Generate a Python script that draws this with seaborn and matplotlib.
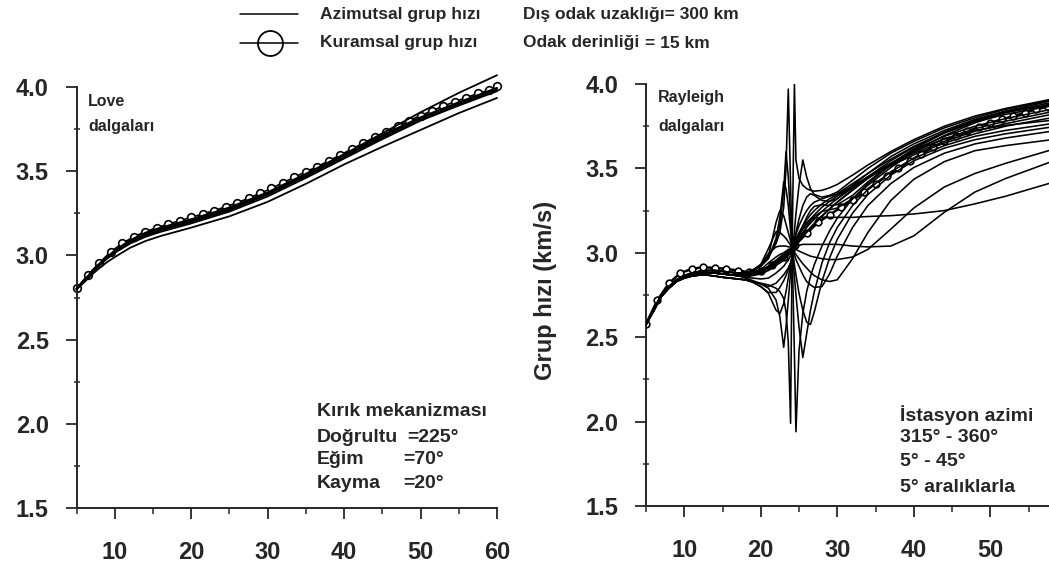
import numpy as np
import pandas as pd
import matplotlib
matplotlib.use("Agg")
import matplotlib.pyplot as plt
from matplotlib.lines import Line2D
from matplotlib.ticker import MultipleLocator, FixedLocator
import seaborn as sns

# -----------------------------
# Love waves (left panel)
# -----------------------------
love_theory_T = [5, 6.5, 8, 9.5, 11, 12.5, 14, 15.5, 17, 18.5, 20, 21.5, 23, 24.5,
                 26, 27.5, 29, 30.5, 32, 33.5, 35, 36.5, 38, 39.5, 41, 42.5, 44,
                 45.5, 47, 48.5, 50, 51.5, 53, 54.5, 56, 57.5, 59, 60]
love_theory_v = [2.805, 2.884, 2.957, 3.022, 3.072, 3.111, 3.141, 3.165, 3.186, 3.206,
                 3.226, 3.246, 3.266, 3.289, 3.313, 3.339, 3.369, 3.398, 3.432, 3.464,
                 3.497, 3.527, 3.562, 3.596, 3.632, 3.666, 3.701, 3.735, 3.768, 3.800,
                 3.830, 3.859, 3.887, 3.913, 3.937, 3.962, 3.982, 4.003]

love_T = [5, 6, 7, 8, 9, 10, 12, 14, 16, 18, 20, 25, 30, 35, 40, 45, 50, 55, 60]
love_az = {
    "L1": [2.80, 2.85, 2.905, 2.95, 2.99, 3.025, 3.08, 3.12, 3.15, 3.175, 3.20, 3.27, 3.365, 3.48, 3.60, 3.725, 3.85, 3.965, 4.07],
    "L2": [2.80, 2.85, 2.905, 2.95, 2.99, 3.025, 3.085, 3.13, 3.16, 3.185, 3.21, 3.28, 3.37, 3.48, 3.595, 3.71, 3.815, 3.905, 3.99],
    "L3": [2.80, 2.848, 2.90, 2.945, 2.985, 3.02, 3.075, 3.12, 3.15, 3.175, 3.20, 3.27, 3.36, 3.47, 3.585, 3.70, 3.805, 3.895, 3.98],
    "L4": [2.80, 2.845, 2.895, 2.94, 2.98, 3.015, 3.07, 3.11, 3.14, 3.165, 3.19, 3.26, 3.35, 3.46, 3.575, 3.69, 3.80, 3.89, 3.975],
    "L5": [2.80, 2.84, 2.885, 2.925, 2.96, 2.99, 3.045, 3.085, 3.115, 3.14, 3.165, 3.232, 3.318, 3.425, 3.54, 3.645, 3.745, 3.845, 3.935],
    "L6": [2.80, 2.85, 2.90, 2.948, 2.99, 3.03, 3.09, 3.135, 3.165, 3.19, 3.215, 3.285, 3.375, 3.485, 3.60, 3.715, 3.82, 3.91, 3.995],
}

# -----------------------------
# Rayleigh waves (right panel)
# -----------------------------
ray_theory_T = [5, 6.5, 8, 9.5, 11, 12.5, 14, 15.5, 17, 18.5, 20, 21.5, 23, 24.5,
                26, 27.5, 29, 30.5, 32, 33.5, 35, 36.5, 38, 39.5, 41, 42.5, 44,
                45.5, 47, 48.5, 50, 51.5, 53, 54.5, 56, 57.5]
ray_theory_v = [2.578, 2.72, 2.82, 2.88, 2.905, 2.915, 2.91, 2.905, 2.895, 2.885,
                2.895, 2.925, 2.975, 3.045, 3.115, 3.18, 3.225, 3.27, 3.31, 3.36,
                3.41, 3.455, 3.50, 3.545, 3.585, 3.625, 3.66, 3.69, 3.72, 3.745,
                3.77, 3.79, 3.81, 3.83, 3.85, 3.865]

prefix_T = [5, 6, 7, 8, 9, 10, 11, 12, 13, 14, 15, 16, 17]
prefix = {
    "HI":  [2.575, 2.665, 2.75, 2.80, 2.84, 2.865, 2.88, 2.89, 2.895, 2.895, 2.89, 2.885, 2.88],
    "MID": [2.575, 2.66, 2.745, 2.795, 2.835, 2.86, 2.875, 2.88, 2.882, 2.88, 2.875, 2.87, 2.865],
    "LO":  [2.575, 2.655, 2.74, 2.79, 2.83, 2.85, 2.862, 2.868, 2.868, 2.862, 2.855, 2.85, 2.845],
}

ray_T = [18, 19, 20, 21, 22, 22.5, 23, 23.3, 23.6, 23.9, 24.1, 24.4, 24.6, 25, 25.5,
         26, 26.5, 27, 28, 29, 30, 32, 34, 37, 40, 44, 48, 52, 58]
ray_az = {
    "D1": ("LO", [2.84, 2.83, 2.82, 2.81, 2.79, 2.77, 2.73, 2.65, 2.47, 1.99, 3.03, 4.00, 3.55, 3.44, 3.40, 3.38, 3.37, 3.365, 3.37, 3.385, 3.405, 3.46, 3.52, 3.60, 3.67, 3.75, 3.81, 3.855, 3.91]),
    "D2": ("LO", [2.84, 2.83, 2.815, 2.79, 2.72, 2.62, 2.44, 2.56, 2.72, 2.88, 2.98, 3.13, 3.23, 3.40, 3.55, 3.45, 3.38, 3.345, 3.33, 3.34, 3.36, 3.43, 3.50, 3.59, 3.66, 3.74, 3.80, 3.85, 3.905]),
    "D3": ("LO", [2.84, 2.825, 2.80, 2.76, 2.66, 2.64, 2.70, 2.77, 2.85, 2.93, 2.99, 3.07, 3.12, 3.20, 3.28, 3.33, 3.35, 3.34, 3.31, 3.305, 3.32, 3.40, 3.47, 3.57, 3.645, 3.725, 3.79, 3.84, 3.90]),
    "D4": ("LO", [2.84, 2.825, 2.80, 2.765, 2.765, 2.795, 2.835, 2.865, 2.90, 2.94, 2.97, 3.02, 3.05, 3.10, 3.16, 3.21, 3.25, 3.275, 3.285, 3.28, 3.285, 3.34, 3.42, 3.525, 3.615, 3.71, 3.78, 3.835, 3.89]),
    "D5": ("MID", [2.85, 2.835, 2.815, 2.80, 2.82, 2.845, 2.87, 2.89, 2.91, 2.94, 2.97, 3.005, 3.03, 3.07, 3.115, 3.155, 3.19, 3.215, 3.245, 3.255, 3.265, 3.32, 3.40, 3.505, 3.60, 3.695, 3.77, 3.83, 3.88]),
    "D6": ("MID", [2.855, 2.85, 2.845, 2.85, 2.88, 2.90, 2.92, 2.94, 2.955, 2.985, 3.03, 3.08, 3.11, 3.16, 3.21, 3.25, 3.28, 3.30, 3.32, 3.335, 3.35, 3.41, 3.47, 3.555, 3.63, 3.715, 3.785, 3.835, 3.875]),
    "N1": ("MID", [2.865, 2.875, 2.89, 2.915, 2.95, 2.965, 2.98, 2.99, 3.00, 3.015, 3.03, 3.045, 3.055, 3.075, 3.10, 3.125, 3.15, 3.175, 3.22, 3.26, 3.30, 3.37, 3.44, 3.53, 3.61, 3.69, 3.75, 3.795, 3.85]),
    "N2": ("MID", [2.865, 2.87, 2.885, 2.91, 2.94, 2.955, 2.97, 2.985, 2.995, 3.01, 3.03, 3.05, 3.065, 3.09, 3.12, 3.15, 3.175, 3.20, 3.245, 3.285, 3.32, 3.385, 3.45, 3.53, 3.60, 3.675, 3.735, 3.78, 3.835]),
    "N3": ("MID", [2.865, 2.87, 2.88, 2.90, 2.935, 2.95, 2.965, 2.98, 2.99, 3.005, 3.03, 3.055, 3.075, 3.105, 3.14, 3.17, 3.20, 3.225, 3.27, 3.305, 3.335, 3.395, 3.45, 3.525, 3.59, 3.66, 3.72, 3.765, 3.82]),
    "N4": ("MID", [2.86, 2.865, 2.875, 2.895, 2.925, 2.94, 2.955, 2.97, 2.985, 3.00, 3.03, 3.06, 3.085, 3.12, 3.16, 3.195, 3.225, 3.25, 3.29, 3.32, 3.345, 3.395, 3.445, 3.515, 3.58, 3.65, 3.705, 3.75, 3.80]),
    "N5": ("MID", [2.87, 2.88, 2.895, 2.92, 2.955, 2.97, 2.985, 2.995, 3.005, 3.02, 3.03, 3.04, 3.05, 3.07, 3.095, 3.12, 3.145, 3.17, 3.215, 3.26, 3.30, 3.375, 3.45, 3.545, 3.625, 3.71, 3.775, 3.82, 3.87]),
    "U1": ("HI", [2.88, 2.90, 2.93, 2.975, 3.055, 3.12, 3.27, 3.50, 3.97, 3.40, 3.03, 2.40, 1.94, 2.42, 2.64, 2.77, 2.86, 2.93, 3.04, 3.13, 3.205, 3.32, 3.41, 3.52, 3.60, 3.675, 3.725, 3.755, 3.785]),
    "U2": ("HI", [2.88, 2.90, 2.925, 2.97, 3.065, 3.16, 3.37, 3.60, 3.45, 3.20, 3.03, 2.86, 2.75, 2.56, 2.38, 2.52, 2.66, 2.77, 2.94, 3.06, 3.15, 3.28, 3.375, 3.48, 3.56, 3.635, 3.69, 3.725, 3.765]),
    "U3": ("HI", [2.88, 2.895, 2.92, 2.965, 3.085, 3.21, 3.42, 3.38, 3.28, 3.13, 3.03, 2.93, 2.87, 2.76, 2.66, 2.59, 2.575, 2.65, 2.83, 2.97, 3.08, 3.235, 3.345, 3.46, 3.545, 3.62, 3.67, 3.705, 3.745]),
    "U4": ("HI", [2.88, 2.895, 2.92, 2.98, 3.18, 3.25, 3.22, 3.17, 3.12, 3.07, 3.03, 2.99, 2.96, 2.92, 2.87, 2.83, 2.81, 2.795, 2.80, 2.875, 2.98, 3.15, 3.28, 3.41, 3.505, 3.59, 3.645, 3.68, 3.72]),
    "U5": ("HI", [2.88, 2.895, 2.93, 3.025, 3.125, 3.12, 3.10, 3.085, 3.065, 3.045, 3.03, 3.005, 2.99, 2.965, 2.935, 2.91, 2.885, 2.865, 2.84, 2.83, 2.84, 2.965, 3.12, 3.31, 3.435, 3.54, 3.605, 3.635, 3.67]),
    "U6": ("MID", [2.875, 2.89, 2.93, 2.995, 3.035, 3.04, 3.04, 3.04, 3.035, 3.035, 3.03, 3.025, 3.02, 3.01, 3.00, 2.99, 2.98, 2.975, 2.965, 2.96, 2.96, 2.975, 3.02, 3.14, 3.265, 3.39, 3.47, 3.53, 3.61]),
    "U7": ("MID", [2.87, 2.88, 2.90, 2.94, 2.975, 2.99, 3.00, 3.01, 3.02, 3.025, 3.03, 3.035, 3.04, 3.045, 3.05, 3.05, 3.05, 3.05, 3.05, 3.05, 3.05, 3.04, 3.035, 3.04, 3.10, 3.24, 3.36, 3.44, 3.54]),
    "W":  ("MID", [2.865, 2.875, 2.89, 2.92, 2.955, 2.975, 2.99, 3.00, 3.01, 3.02, 3.03, 3.05, 3.07, 3.11, 3.15, 3.18, 3.20, 3.205, 3.21, 3.21, 3.21, 3.21, 3.215, 3.22, 3.23, 3.25, 3.29, 3.335, 3.415]),
}

# -----------------------------
# Long-form tables
# -----------------------------
love_rows = []
for name, vals in love_az.items():
    for t, v in zip(love_T, vals):
        love_rows.append((name, t, v))
love_df = pd.DataFrame(love_rows, columns=["curve", "period", "vel"])

ray_rows = []
for name, (pre, vals) in ray_az.items():
    for t, v in zip(prefix_T + ray_T, prefix[pre] + vals):
        ray_rows.append((name, t, v))
ray_df = pd.DataFrame(ray_rows, columns=["curve", "period", "vel"])

# -----------------------------
# Style
# -----------------------------
sns.set_style("ticks")
plt.rcParams["font.family"] = ["Liberation Sans", "DejaVu Sans"]
plt.rcParams["font.weight"] = "bold"

W, H = 1049, 574
fig = plt.figure(figsize=(W / 100, H / 100), dpi=100)


def fx(px):
    return px / W


def fy(py):
    return 1 - py / H


ax1 = fig.add_axes([fx(76.5), fy(508), (497 - 76.5) / W, (508 - 87) / H])
ax2 = fig.add_axes([fx(646), fy(506), (W - 646) / W, (506 - 84) / H])

# left panel
sns.lineplot(x=love_theory_T, y=love_theory_v, ax=ax1, color="black", lw=1.2,
             marker="o", markersize=5.5, markerfacecolor="white",
             markeredgecolor="black", markeredgewidth=1.2, zorder=2)
sns.lineplot(data=love_df, x="period", y="vel", units="curve", estimator=None,
             sort=False, color="black", lw=1.3, ax=ax1, legend=False, zorder=3)
for ln in ax1.lines:
    ln.set_clip_on(False)

# right panel
sns.lineplot(x=ray_theory_T, y=ray_theory_v, ax=ax2, color="black", lw=1.8,
             marker="o", markersize=4.8, markerfacecolor="white",
             markeredgecolor="black", markeredgewidth=1.2, zorder=2)
sns.lineplot(data=ray_df, x="period", y="vel", units="curve", estimator=None,
             sort=False, color="black", lw=1.15, ax=ax2, legend=False, zorder=3)

ax1.set_xlim(5, 60)
ax2.set_xlim(5, 5 + (W - 646) / 7.65)

for ax in (ax1, ax2):
    ax.set_ylim(1.5, 4.0)
    ax.set_xlabel("")
    ax.set_ylabel("")
    ax.spines[["top", "right"]].set_visible(False)
    ax.spines[["left", "bottom"]].set_linewidth(1.4)
    ax.xaxis.set_major_locator(FixedLocator([10, 20, 30, 40, 50, 60]))
    ax.xaxis.set_minor_locator(MultipleLocator(5))
    ax.yaxis.set_major_locator(MultipleLocator(0.5))
    ax.yaxis.set_minor_locator(MultipleLocator(0.25))
    ax.tick_params(axis="x", which="major", direction="out", length=8, width=1.3,
                   pad=16, labelsize=17)
    ax.tick_params(axis="x", which="minor", direction="out", length=4.5, width=1.1)
    ax.tick_params(axis="y", which="major", direction="out", length=8, width=1.3,
                   pad=12, labelsize=17)
    ax.tick_params(axis="y", which="minor", direction="inout", length=5, width=1.1)
    ax.patch.set_alpha(0)

ax2.set_ylabel("Grup hızı (km/s)", fontsize=17, fontweight="bold")
ax2.yaxis.set_label_coords(-0.22, 0.51)

# -----------------------------
# Texts
# -----------------------------
def put(px, py, s, size=14, **kw):
    fig.text(fx(px), fy(py), s, fontsize=size, fontweight="bold",
             ha="left", va="center", **kw)


# legend
fig.add_artist(Line2D([fx(240), fx(298)], [fy(14), fy(14)], color="black", lw=1.1))
fig.add_artist(Line2D([fx(240), fx(298)], [fy(43), fy(43)], color="black", lw=1.1))
fig.add_artist(Line2D([fx(270)], [fy(43)], marker="o", markersize=18,
                      markerfacecolor="none", markeredgecolor="black",
                      markeredgewidth=1.3))
put(320, 14, "Azimutsal grup hızı", 12.5)
put(320, 43, "Kuramsal grup hızı", 12.5)
put(523, 14, "Dış odak uzaklığı= 300 km", 12.5)
put(523, 43, "Odak derinliği", 12.5)
put(645, 43, "= 15 km", 12.5)

put(88, 101, "Love", 11.5)
put(88, 127, "dalgaları", 11.5)
put(658, 97, "Rayleigh", 11.5)
put(658, 127, "dalgaları", 11.5)

put(317, 412, "Kırık mekanizması")
put(317, 437, "Doğrultu")
put(317, 460, "Eğim")
put(317, 483, "Kayma")
put(407, 437, "=225°")
put(403, 460, "=70°")
put(403, 483, "=20°")

put(900, 415, "İstasyon azimi")
put(900, 438, "315° - 360°")
put(900, 462, "5° - 45°")
put(900, 487, "5° aralıklarla")

fig.savefig("out.png", dpi=100)
